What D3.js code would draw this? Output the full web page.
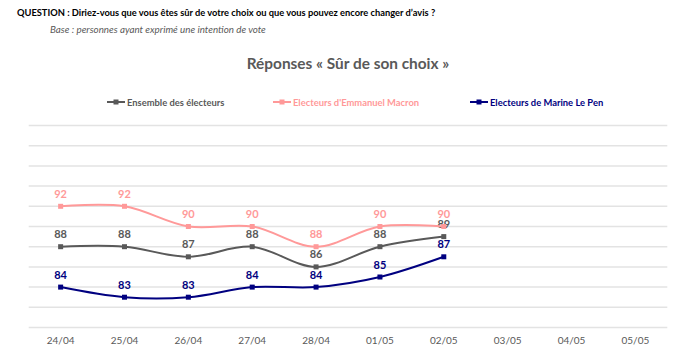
<!DOCTYPE html>
<html><head><meta charset="utf-8">
<script src="https://cdn.jsdelivr.net/npm/d3@7"></script>
<style>
body{margin:0;background:#fff;}
text{font-family:Lato,"Open Sans",sans-serif;}
</style></head>
<body><svg id="c" width="680" height="360"></svg>
<script>
const categories = ["24/04","25/04","26/04","27/04","28/04","01/05","02/05","03/05","04/05","05/05"];
const ensemble = [88,88,87,88,86,88,89];
const macron = [92,92,90,90,88,90,90];
const lepen = [84,83,83,84,84,85,87];
const seriesNames = ["Ensemble des électeurs","Electeurs d'Emmanuel Macron","Electeurs de Marine Le Pen"];
const yTicks = [80,82,84,86,88,90,92,94,96,98,100];

const colors = ["#595959","#ff9999","#000080"];
const series = [ensemble, macron, lepen];

const svg = d3.select("#c");
svg.append("text").attr("x",17).attr("y",16).attr("font-size",9.3).attr("font-weight","bold").attr("fill","#000")
  .text("QUESTION : Diriez-vous que vous êtes sûr de votre choix ou que vous pouvez encore changer d’avis ?");
svg.append("text").attr("x",50).attr("y",33).attr("font-size",9.8).attr("font-style","italic").attr("fill","#595959")
  .text("Base : personnes ayant exprimé une intention de vote");
svg.append("text").attr("x",348).attr("y",69).attr("text-anchor","middle").attr("font-size",15.4).attr("font-weight","bold").attr("fill","#595959")
  .text("Réponses « Sûr de son choix »");

const x = d3.scaleBand().domain(categories).range([28.7,667.3]);
const y = d3.scaleLinear().domain([80,100]).range([327.5,125.5]);

svg.append("g").selectAll("line").data(yTicks).join("line")
  .attr("x1",28.7).attr("x2",667.3).attr("y1",d=>y(d)).attr("y2",d=>y(d))
  .attr("stroke","#e3e3e3").attr("stroke-width",1.5);

const ax = svg.append("g").attr("transform","translate(0,333)")
  .call(d3.axisBottom(x).tickSize(0).tickPadding(4));
ax.select(".domain").remove();
ax.selectAll("text").attr("font-size",10).attr("fill","#595959").attr("font-family","Lato,sans-serif");

const line = d3.line().x((d,i)=>x(categories[i])+x.bandwidth()/2).y(d=>y(d)).curve(d3.curveCatmullRom.alpha(0.5));

series.forEach((s,k)=>{
  const g = svg.append("g");
  g.append("path").attr("d",line(s)).attr("fill","none").attr("stroke",colors[k]).attr("stroke-width",2);
  g.selectAll("rect").data(s).join("rect")
    .attr("x",(d,i)=>x(categories[i])+x.bandwidth()/2-2.5).attr("y",d=>y(d)-2.5)
    .attr("width",5).attr("height",5).attr("fill",colors[k]);
  g.selectAll("text").data(s).join("text")
    .attr("x",(d,i)=>x(categories[i])+x.bandwidth()/2).attr("y",d=>y(d)-8.5)
    .attr("text-anchor","middle").attr("font-size",11).attr("font-weight","bold").attr("fill",colors[k])
    .text(d=>d);
});

// legend
const legX = [107,273,470];
seriesNames.forEach((n,k)=>{
  const g = svg.append("g").attr("transform",`translate(${legX[k]},102)`);
  g.append("line").attr("x1",0).attr("x2",18).attr("y1",0).attr("y2",0).attr("stroke",colors[k]).attr("stroke-width",2);
  g.append("rect").attr("x",6.5).attr("y",-2.5).attr("width",5).attr("height",5).attr("fill",colors[k]);
  g.append("text").attr("x",20).attr("y",3.5).attr("font-size",9.4).attr("font-weight","bold").attr("fill",colors[k]).text(n);
});
</script></body></html>
